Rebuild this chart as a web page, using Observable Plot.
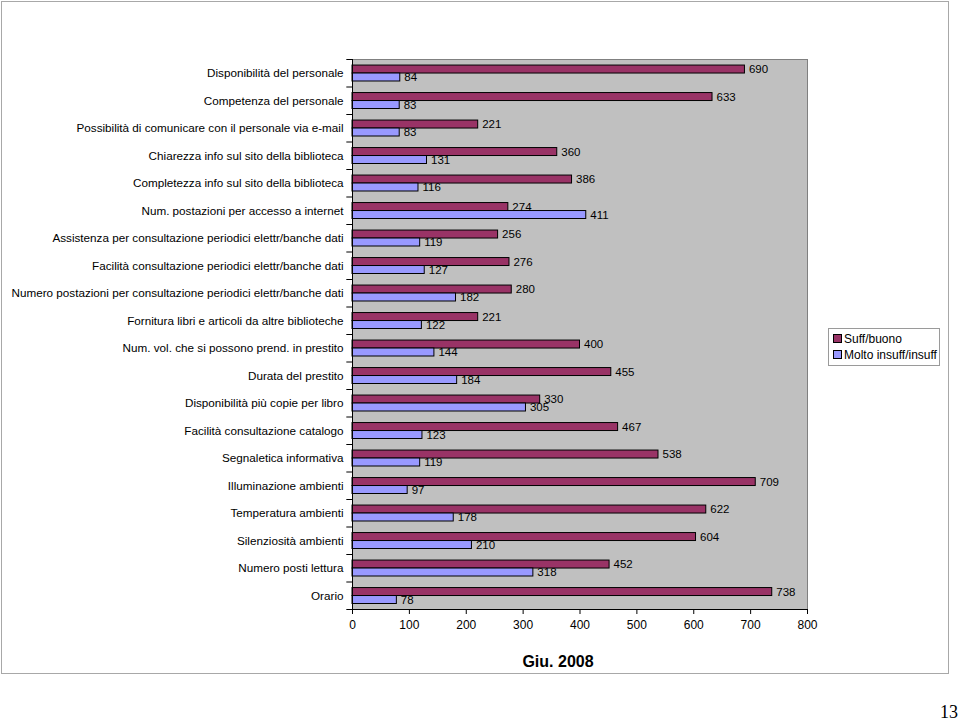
<!DOCTYPE html>
<html><head><meta charset="utf-8">
<script src="https://cdn.jsdelivr.net/npm/d3@7"></script>
<script src="https://cdn.jsdelivr.net/npm/@observablehq/plot@0.6"></script>
<style>
body{margin:0;background:#fff;font-family:"Liberation Sans",Arial,sans-serif;}
#wrap{position:relative;width:960px;height:721px;overflow:hidden;background:#fff}
#chart{position:absolute;left:0;top:0}
#frame{position:absolute;left:1px;top:1px;width:946px;height:671px;border:1px solid #a8a8a8;pointer-events:none}
#legend{position:absolute;left:828px;top:328px;width:110px;height:36px;border:1px solid #9a9a9a;background:#fff;font-size:12px;color:#000}
#legend .item{position:absolute;left:4px;height:14px;line-height:14px;white-space:nowrap}
#legend .sw{display:inline-block;width:7px;height:7px;border:1px solid #000;margin-right:2px;vertical-align:0px}
#title{position:absolute;left:458px;width:200px;top:653px;text-align:center;font-weight:bold;font-size:16px;color:#000}
#page{position:absolute;right:2px;top:702px;font-family:"Liberation Serif","Times New Roman",serif;font-size:18px;color:#000}
</style></head><body>
<div id="wrap"><div id="chart"></div><div id="frame"></div><div id="legend"></div><div id="title">Giu. 2008</div><div id="page">13</div></div>
<script>
const categories = [
  "Disponibilità del personale",
  "Competenza del personale",
  "Possibilità di comunicare con il personale via e-mail",
  "Chiarezza info sul sito della biblioteca",
  "Completezza info sul sito della biblioteca",
  "Num. postazioni per accesso a internet",
  "Assistenza per consultazione periodici elettr/banche dati",
  "Facilità consultazione periodici elettr/banche dati",
  "Numero postazioni per consultazione periodici elettr/banche dati",
  "Fornitura libri e articoli da altre biblioteche",
  "Num. vol. che si possono prend. in prestito",
  "Durata del prestito",
  "Disponibilità più copie per libro",
  "Facilità consultazione catalogo",
  "Segnaletica informativa",
  "Illuminazione ambienti",
  "Temperatura ambienti",
  "Silenziosità ambienti",
  "Numero posti lettura",
  "Orario"
];
const suffBuono   = [690, 633, 221, 360, 386, 274, 256, 276, 280, 221, 400, 455, 330, 467, 538, 709, 622, 604, 452, 738];
const moltoInsuff = [ 84,  83,  83, 131, 116, 411, 119, 127, 182, 122, 144, 184, 305, 123, 119,  97, 178, 210, 318,  78];
const xTicks = [0, 100, 200, 300, 400, 500, 600, 700, 800];
const seriesNames = ["Suff/buono", "Molto insuff/insuff"];
const seriesColors = ["#993366", "#9999FF"];

const rowsA = categories.map((c, i) => ({cat: c, v: suffBuono[i]}));
const rowsB = categories.map((c, i) => ({cat: c, v: moltoInsuff[i]}));

const W = 960, H = 721, mT = 59, mB = 112, mL = 352, mR = 153;
const step = (H - mT - mB) / categories.length;

const chart = Plot.plot({
  width: W, height: H,
  marginTop: mT, marginBottom: mB, marginLeft: mL, marginRight: mR,
  style: {fontFamily: "'Liberation Sans', Arial, sans-serif", fontSize: "12px", color: "#000", background: "transparent"},
  x: {domain: [0, 800]},
  y: {domain: categories, padding: 0, round: false},
  marks: [
    Plot.frame({fill: "#c0c0c0", stroke: "#808080"}),
    Plot.barX(rowsA, {x: "v", y: "cat", fill: seriesColors[0], stroke: "#000", strokeWidth: 1, insetTop: step * 0.22, insetBottom: step - step * 0.51}),
    Plot.barX(rowsB, {x: "v", y: "cat", fill: seriesColors[1], stroke: "#000", strokeWidth: 1, insetTop: step * 0.51, insetBottom: step - step * 0.8}),
    Plot.text(rowsA, {x: "v", y: "cat", text: d => String(d.v), textAnchor: "start", dx: 4, dy: -step * 0.135, fontSize: 11.5, fill: "#000"}),
    Plot.text(rowsB, {x: "v", y: "cat", text: d => String(d.v), textAnchor: "start", dx: 4, dy: step * 0.165, fontSize: 11.5, fill: "#000"}),
    Plot.ruleY(categories, {y: d => d, x1: -10, x2: 0, dy: -step / 2, stroke: "#000", strokeWidth: 1}),
    Plot.ruleY([categories[categories.length - 1]], {y: d => d, x1: -10, x2: 0, dy: step / 2, stroke: "#000", strokeWidth: 1}),
    Plot.ruleX([0], {stroke: "#000", strokeWidth: 1}),
    Plot.axisY({tickSize: 0, tickPadding: 9, label: null, fontSize: 11.7}),
    Plot.axisX({ticks: xTicks, tickSize: 5, tickPadding: 6, label: null, fontSize: 12, tickFormat: d => String(d)}),
    Plot.ruleY([categories[categories.length - 1]], {y: d => d, dy: step / 2, stroke: "#000", strokeWidth: 1})
  ]
});
document.getElementById("chart").appendChild(chart);

const legend = document.getElementById("legend");
seriesNames.forEach((n, i) => {
  const it = document.createElement("div");
  it.className = "item";
  it.style.top = (3 + i * 16) + "px";
  it.innerHTML = `<span class="sw" style="background:${seriesColors[i]}"></span>${n}`;
  legend.appendChild(it);
});
</script>
</body></html>
